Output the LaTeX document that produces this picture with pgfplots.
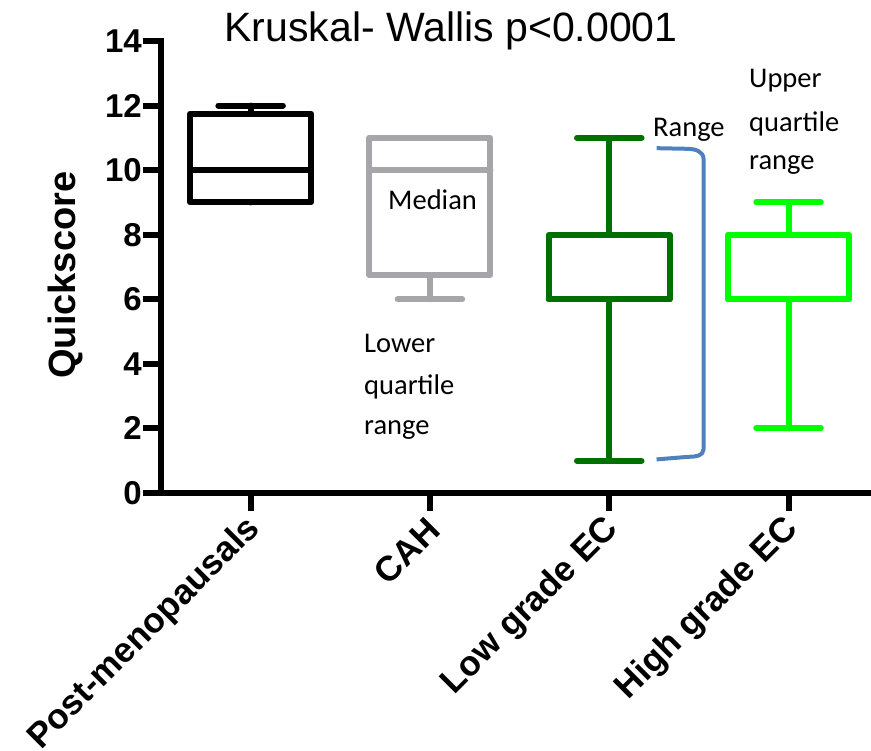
\documentclass[border=0pt]{standalone}
\usepackage{fontspec}
\setmainfont{Liberation Sans}
\newfontfamily\calibri{Carlito}
\usepackage{pgfplots}
\pgfplotsset{compat=1.18}
\usepgfplotslibrary{statistics}
\definecolor{cgray}{RGB}{166,166,170}
\definecolor{cdark}{RGB}{0,112,0}
\definecolor{clime}{RGB}{0,255,0}
\definecolor{cblue}{RGB}{79,129,189}
\begin{document}
\begin{tikzpicture}
\begin{axis}[
  at={(161pt,258pt)}, anchor=south west,
  scale only axis, width=710pt, height=452pt,
  xmin=0.5, xmax=4.46, ymin=0, ymax=14,
  axis lines*=left,
  axis line style={line width=6pt, black, line cap=rect},
  xtick={1,2,3,4},
  xticklabels={Post-menopausals, CAH, Low grade EC, High grade EC},
  ytick={0,2,4,6,8,10,12,14},
  tick align=outside,
  major tick length=18pt,
  tick style={line width=6pt, black},
  /pgf/number format/assume math mode=true,
  yticklabel style={font=\fontsize{33}{33}\selectfont\bfseries, inner sep=0pt, xshift=-1pt},
  xticklabel style={font=\fontsize{35}{35}\selectfont\bfseries, rotate=45, anchor=east, inner sep=0pt, xshift=-6pt, yshift=-12pt},
  ylabel={Quickscore},
  ylabel style={font=\fontsize{38}{38}\selectfont\bfseries, at={(axis description cs:-0.134,0.482)}, anchor=center, rotate=0},
  clip=false,
  boxplot/draw direction=y,
  boxplot/box extend=0.675,
  boxplot/whisker extend=0.36,
  every boxplot/.style={line width=6pt, line cap=round, line join=round, fill=none},
]
\addplot+[black, solid, mark=none, boxplot prepared={draw position=1, lower whisker=9, lower quartile=9, median=10, upper quartile=11.75, upper whisker=12}] coordinates {};
\addplot+[cgray, solid, mark=none, boxplot prepared={draw position=2, lower whisker=6, lower quartile=6.75, median=10, upper quartile=11, upper whisker=11}] coordinates {};
\addplot+[cdark, solid, mark=none, boxplot prepared={draw position=3, lower whisker=1, lower quartile=6, median=6, upper quartile=8, upper whisker=11}] coordinates {};
\addplot+[clime, solid, mark=none, boxplot prepared={draw position=4, lower whisker=2, lower quartile=6, median=6, upper quartile=8, upper whisker=9}] coordinates {};
\draw[cblue, line width=4pt, line cap=butt, line join=round]
  (axis cs:3.264,10.68) -- (axis cs:3.44,10.66) to[out=0,in=90] (axis cs:3.526,10.35)
  -- (axis cs:3.526,1.35) to[out=-90,in=0] (axis cs:3.44,1.12) -- (axis cs:3.264,1.04);
\end{axis}
\node[anchor=base, font=\fontsize{41}{41}\selectfont, inner sep=0pt] at (451pt,709pt) {Kruskal- Wallis p<0.0001};
\begin{scope}[every node/.style={anchor=base west, inner sep=0pt, font=\calibri\fontsize{28.5}{28.5}\selectfont}]
\node at (388pt,541pt) {Median};
\node at (364pt,398pt) {Lower};
\node at (364pt,356pt) {quartile};
\node at (364pt,316pt) {range};
\node at (653pt,614pt) {Range};
\node at (749pt,663pt) {Upper};
\node at (749pt,619pt) {quartile};
\node at (749pt,581pt) {range};
\end{scope}
\pgfresetboundingbox
\path[use as bounding box] (0,0) rectangle (871pt,751pt);
\end{tikzpicture}
\end{document}
